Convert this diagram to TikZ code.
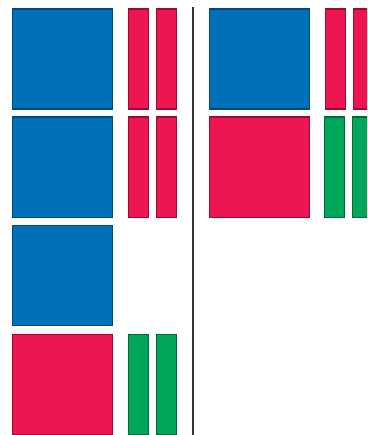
\documentclass[tikz,border=0pt]{standalone}
\usetikzlibrary{positioning}
\definecolor{tileblue}{HTML}{0070B8}
\definecolor{tileblueline}{HTML}{004A80}
\definecolor{tilered}{HTML}{EE1650}
\definecolor{tileredline}{HTML}{9A0A35}
\definecolor{tilegreen}{HTML}{00A65A}
\definecolor{tilegreenline}{HTML}{006A3A}

\begin{document}
\begin{tikzpicture}[
    x=1pt,y=-1pt,
    square/.style={rectangle,draw,line width=1.4pt,minimum width=100pt,minimum height=100pt,inner sep=0pt,anchor=north west},
    bar/.style={rectangle,draw,line width=1.4pt,minimum width=20pt,minimum height=100pt,inner sep=0pt,anchor=north west},
    bluetile/.style={fill=tileblue,draw=tileblueline},
    redtile/.style={fill=tilered,draw=tileredline},
    greentile/.style={fill=tilegreen,draw=tilegreenline},
    divider/.style={line width=2pt,draw=black!80}
]
    \useasboundingbox (0,0) rectangle (367,435);
    \clip (0,0) rectangle (367,435);

    % left column
    \node[square,bluetile] (lblueA) at (12,8.5) {};
    \node[bar,redtile] (lredA1) at (128,8.5) {};
    \node[bar,redtile] (lredA2) at (156,8.5) {};

    \node[square,bluetile] (lblueB) at (12,116.5) {};
    \node[bar,redtile] (lredB1) at (128,116.5) {};
    \node[bar,redtile] (lredB2) at (156,116.5) {};

    \node[square,bluetile] (lblueC) at (12,224.5) {};

    \node[square,redtile] (lredD) at (12,333.5) {};
    \node[bar,greentile] (lgreenD1) at (128,333.5) {};
    \node[bar,greentile] (lgreenD2) at (156,333.5) {};

    % divider
    \coordinate (divtop) at (192.5,7);
    \coordinate (divbot) at (192.5,435);
    \draw[divider] (divtop) -- (divbot);

    % right column
    \node[square,bluetile] (rblueA) at (209,8.5) {};
    \node[bar,redtile] (rredA1) at (325,8.5) {};
    \node[bar,redtile] (rredA2) at (353,8.5) {};

    \node[square,redtile] (rredB) at (209,116.5) {};
    \node[bar,greentile] (rgreenB1) at (324,116.5) {};
    \node[bar,greentile] (rgreenB2) at (352,116.5) {};
\end{tikzpicture}
\end{document}
